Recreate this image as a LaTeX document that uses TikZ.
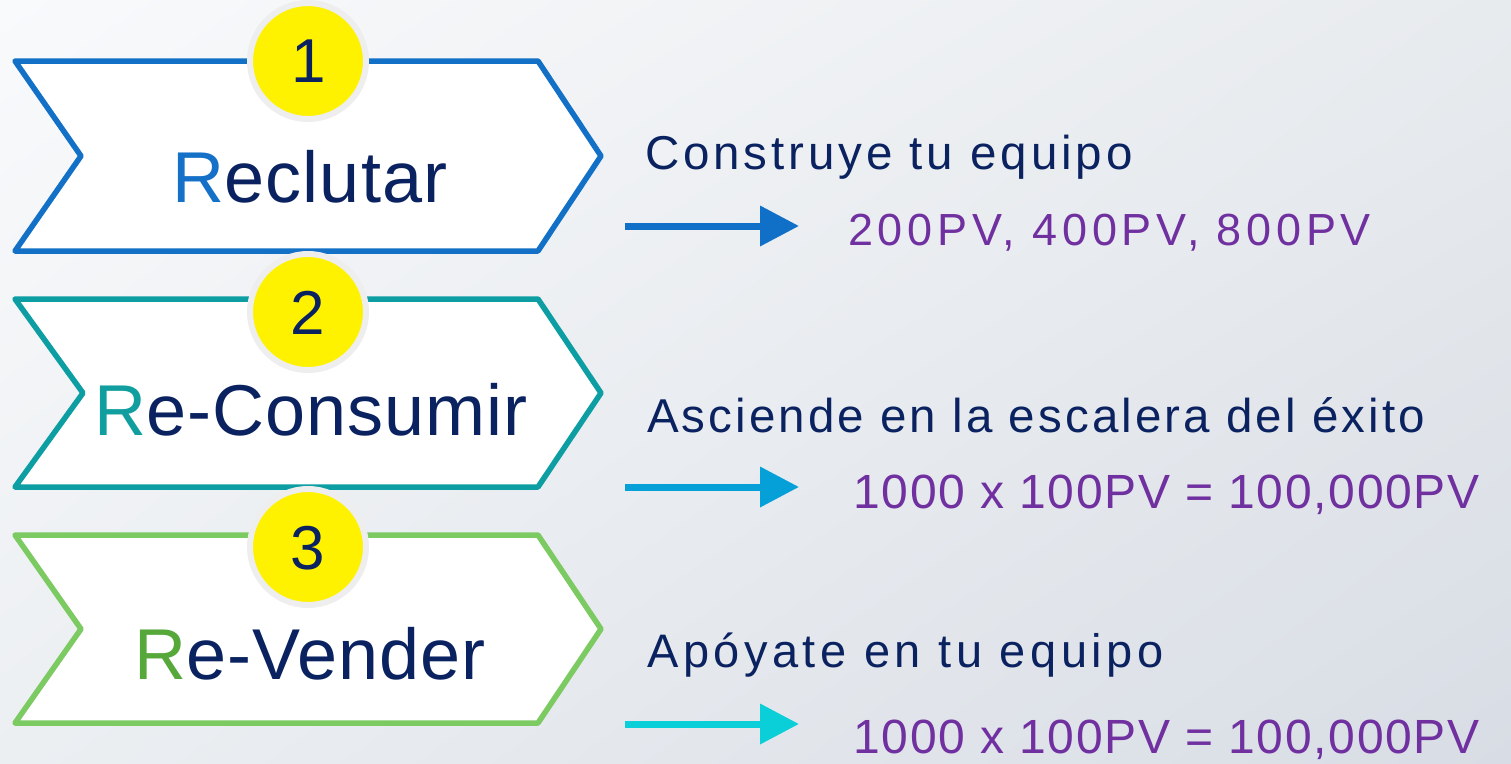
\documentclass[tikz,border=0pt]{standalone}
\usepackage{fontspec}
\setmainfont{Liberation Sans}
\usetikzlibrary{arrows.meta,shadings}
\definecolor{navy}{HTML}{0B2260}
\definecolor{purp}{HTML}{7030A0}
\definecolor{cblue}{HTML}{1270C6}
\definecolor{cteal}{HTML}{0C9EA3}
\definecolor{cgreen}{HTML}{7CCA62}
\definecolor{rblue}{HTML}{1570C8}
\definecolor{rteal}{HTML}{109E9E}
\definecolor{rgreen}{HTML}{56A83A}
\definecolor{arA}{HTML}{1070C8}
\definecolor{arB}{HTML}{06A0D8}
\definecolor{arC}{HTML}{0ACFD8}
\definecolor{ring}{HTML}{EEEEEE}
\definecolor{bgUL}{HTML}{F9FAFC}
\definecolor{bgUR}{HTML}{E8EBEE}
\definecolor{bgLL}{HTML}{ECEFF2}
\definecolor{bgLR}{HTML}{D8DDE5}
\newfontfamily\trackA[LetterSpace=8.2]{Liberation Sans}
\newfontfamily\trackB[LetterSpace=6.5]{Liberation Sans}
\newfontfamily\trackC[LetterSpace=9.6]{Liberation Sans}
\newfontfamily\trackP[LetterSpace=10.5]{Liberation Sans}
\newfontfamily\trackQ[LetterSpace=3.6]{Liberation Sans}
\newfontfamily\trackR[LetterSpace=1.5]{Liberation Sans}
\tikzset{
  chev/.style={line width=5.5pt, line join=round, fill=white},
  badge/.style={circle, fill=yellow, draw=ring, line width=6pt, minimum size=116pt, inner sep=0pt},
  numtxt/.style={text=navy, font=\fontsize{62}{72}\selectfont},
  bigtxt/.style={text=navy, anchor=base, inner sep=0pt, font=\trackR\fontsize{72}{86}\selectfont},
  desc/.style={text=navy, anchor=base west, inner sep=0pt},
  pv/.style={text=purp, anchor=base west, inner sep=0pt},
  arr/.style={line width=7pt, -{Triangle[length=39pt,width=39pt]}}
}
\begin{document}
\begin{tikzpicture}[x=1pt,y=-1pt]
\useasboundingbox (0,0) rectangle (1511,763);
\shade[upper left=bgUL, upper right=bgUR, lower left=bgLL, lower right=bgLR]
  (0,0) rectangle (1511,763);
% chevrons
\draw[chev, draw=cblue] (15,61) -- (538,61) -- (601,156) -- (538,251) -- (15,251) -- (81,156) -- cycle;
\draw[chev, draw=cteal] (15,299) -- (538,299) -- (601,393) -- (538,487) -- (15,487) -- (83,393) -- cycle;
\draw[chev, draw=cgreen] (15,535) -- (538,535) -- (601,629) -- (538,723) -- (15,723) -- (81,629) -- cycle;
% badges
\node[badge] (b1) at (308,61) {};
\node[numtxt] (n1) at (309,61) {1};
\node[badge] (b2) at (308,312) {};
\node[numtxt] (n2) at (308,313) {2};
\node[badge] (b3) at (308,547) {};
\node[numtxt] (n3) at (308,548) {3};
% chevron labels
\node[bigtxt] (t1) at (310,202) {\textcolor{rblue}{R}eclutar};
\node[bigtxt] (t2) at (311,435) {\textcolor{rteal}{R}e-Consumir};
\node[bigtxt] (t3) at (310,679) {\textcolor{rgreen}{R}e-Vender};
% descriptions
\node[desc, font=\trackA\fontsize{47.5}{57}\selectfont] (d1) at (645,169) {Construye tu equipo};
\node[desc, font=\trackB\fontsize{47.5}{57}\selectfont] (d2) at (647,432) {Asciende en la escalera del éxito};
\node[desc, font=\trackC\fontsize{47}{57}\selectfont] (d3) at (647,667) {Apóyate en tu equipo};
% values
\node[pv, font=\trackP\fontsize{45}{54}\selectfont] (p1) at (848,245) {200PV, 400PV, 800PV};
\node[pv, font=\trackQ\fontsize{48}{58}\selectfont] (p2) at (853,508) {1000 x 100PV = 100,000PV};
\node[pv, font=\trackQ\fontsize{48}{58}\selectfont] (p3) at (853,753) {1000 x 100PV = 100,000PV};
% arrows
\coordinate (a1s) at (625,226); \coordinate (a1e) at (799,226);
\coordinate (a2s) at (625,487); \coordinate (a2e) at (799,487);
\coordinate (a3s) at (625,724); \coordinate (a3e) at (799,724);
\draw[arr, draw=arA, fill=arA] (a1s) -- (a1e);
\draw[arr, draw=arB, fill=arB] (a2s) -- (a2e);
\draw[arr, draw=arC, fill=arC] (a3s) -- (a3e);
\end{tikzpicture}
\end{document}
